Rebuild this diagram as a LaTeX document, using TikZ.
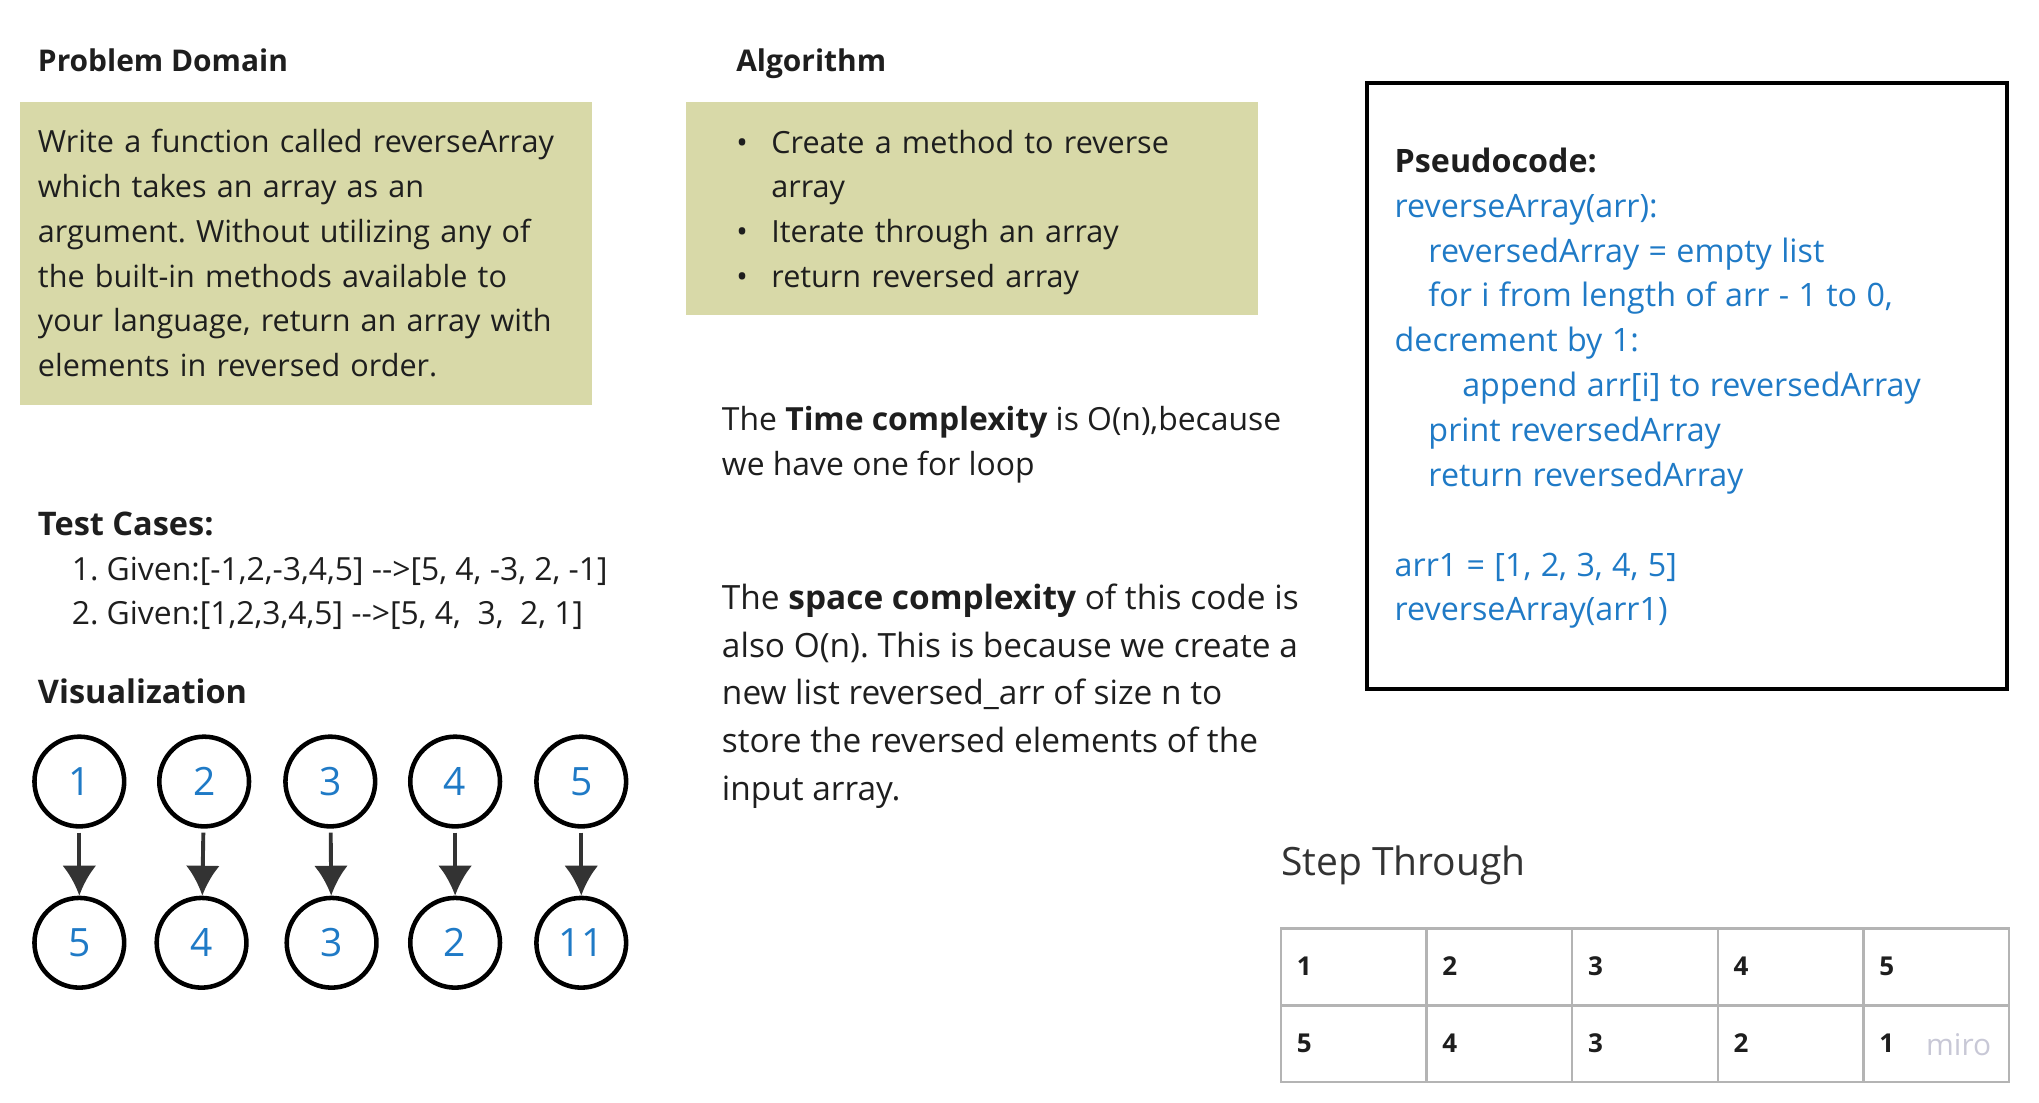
\documentclass[tikz,border=0pt]{standalone}
\usepackage{fontspec}
\setmainfont{Open Sans}
\frenchspacing
\hyphenpenalty=10000
\usetikzlibrary{positioning}
\usetikzlibrary{arrows.meta}
\tikzset{>=latex}

\definecolor{olivebox}{HTML}{D8D9A8}
\definecolor{codeblue}{HTML}{1F7AC6}
\definecolor{inkdark}{HTML}{1E1E1E}
\definecolor{arrowgray}{HTML}{333333}
\definecolor{gridgray}{HTML}{B4B4B4}
\definecolor{mirogray}{HTML}{C8C8D6}

\newcommand\tightcode{\spaceskip=0.29em\relax}

\tikzset{
  headtext/.style={anchor=base west, inner sep=0pt, text=inkdark,
    font=\bfseries\fontsize{25}{35}\selectfont},
  bodytext/.style={inner sep=0pt, text=inkdark, align=left,
    font=\fontsize{24.5}{34.4}\selectfont},
  notebox/.style={fill=olivebox, anchor=north west, align=left,
    inner ysep=0pt, font=\fontsize{23.5}{34.4}\selectfont, text=inkdark},
  vizcircle/.style={circle, draw=black, line width=3.5pt, minimum size=69pt,
    inner sep=0pt, text=codeblue, font=\fontsize{30}{36}\selectfont},
  vizarrow/.style={draw=arrowgray, line width=3pt, shorten <=3pt,
    -{Latex[length=23pt,width=26pt]}},
  cellnum/.style={anchor=west, inner sep=0pt, text=inkdark,
    font=\bfseries\fontsize{20}{24}\selectfont},
}

\begin{document}
\begin{tikzpicture}[x=1pt,y=-1pt]
\useasboundingbox (0,0) rectangle (1568,848);

% problem domain
\node[headtext, font=\bfseries\fontsize{23}{30}\selectfont] (pdtitle) at (29,55) {Problem Domain};
\node[notebox, minimum width=440pt, minimum height=233pt, inner xsep=14pt,
      text width=412pt] (pdbox) at (15,78)
  {Write a function called reverseArray\\
   which takes an array as an\\
   argument. Without utilizing any of\\
   the built-in methods available to\\
   your language, return an array with\\
   elements in reversed order.};

% algorithm
\node[headtext, font=\bfseries\fontsize{23}{30}\selectfont] (algtitle) at (566,55) {Algorithm};
\node[notebox, minimum width=440pt, minimum height=164pt, inner xsep=0pt,
      text width=440pt] (algbox) at (527,78)
  {\rule{0pt}{24pt}\hspace*{39pt}\makebox[27pt][l]{\textbullet}Create a method to reverse\\
   \hspace*{66pt}array\\
   \hspace*{39pt}\makebox[27pt][l]{\textbullet}Iterate through an array\\
   \hspace*{39pt}\makebox[27pt][l]{\textbullet}return reversed array};

% complexity notes
\node[bodytext, anchor=north west, font=\fontsize{24.5}{35}\selectfont] (timenote) at (555,312)
  {The \textbf{Time complexity} is O(n),because\\
   we have one for loop};
\node[bodytext, anchor=north west, font=\fontsize{25.7}{36.6}\selectfont] (spacenote) at (555,449)
  {The \textbf{space complexity} of this code is\\
   also O(n). This is because we create a\\
   new list reversed\_arr of size n to\\
   store the reversed elements of the\\
   input array.};

% pseudocode
\node[draw=black, line width=3pt, anchor=north west, minimum width=492pt,
      minimum height=466pt, inner xsep=21pt, text width=450pt, align=left,
      text=codeblue, font=\fontsize{24.8}{34.5}\selectfont] (pseudo) at (1050,62)
  {\tightcode\rule{0pt}{23pt}\textcolor{inkdark}{\bfseries Pseudocode:}\\
   reverseArray(arr):\\
   \hspace*{26pt}reversedArray = empty list\\
   \hspace*{26pt}for i from length of arr - 1 to 0,\\
   decrement by 1:\\
   \hspace*{52pt}append arr[i] to reversedArray\\
   \hspace*{26pt}print reversedArray\\
   \hspace*{26pt}return reversedArray\\[34.5pt]
   arr1 = [1, 2, 3, 4, 5]\\
   reverseArray(arr1)};

% test cases
\node[headtext] (testtitle) at (29,412) {Test Cases:};
\node[bodytext, anchor=north west] (testlist) at (55,428)
  {1. Given:[-1,2,-3,4,5] \mbox{-}\mbox{-}>[5, 4, -3, 2, -1]\\
   2. Given:[1,2,3,4,5] \mbox{-}\mbox{-}>[5, 4,\ \ 3,\ \ 2, 1]};

% visualization
\node[headtext] (viztitle) at (29,541) {Visualization};
\foreach \n/\x in {1/61,2/157,3/254,4/350,5/447}
  \node[vizcircle] (top\n) at (\x,601) {\n};
\foreach \n/\x/\v in {1/61/5,2/155/4,3/255/3,4/350/2,5/447/11}
  \node[vizcircle] (bot\n) at (\x,725) {\v};
\foreach \n in {1,...,5}
  \draw[vizarrow] (top\n) -- (bot\n);

% step through
\node[anchor=base west, inner sep=0pt, text=arrowgray,
      font=\fontsize{30}{36}\selectfont] (steptitle) at (985,673) {Step Through};
\draw[gridgray, line width=2pt] (985,714) rectangle (1545,832);
\draw[gridgray, line width=2pt] (985,773) -- (1545,773);
\foreach \x in {1097,1209,1321,1433}
  \draw[gridgray, line width=2pt] (\x,714) -- (\x,832);
\foreach \i/\x in {1/997,2/1109,3/1221,4/1333,5/1445}
  \node[cellnum] (cellA\i) at (\x,743) {\i};
\foreach \i/\x/\v in {1/997/5,2/1109/4,3/1221/3,4/1333/2,5/1445/1}
  \node[cellnum] (cellB\i) at (\x,802) {\v};
\node[anchor=west, inner sep=0pt, text=mirogray,
      font=\fontsize{23}{26}\selectfont] (miro) at (1481,803) {miro};
\end{tikzpicture}
\end{document}
